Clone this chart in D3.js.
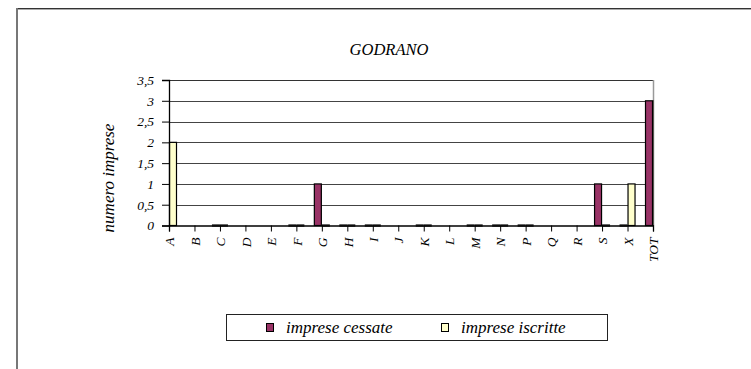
<!DOCTYPE html>
<html>
<head>
<meta charset="utf-8">
<script src="https://cdn.jsdelivr.net/npm/d3@7"></script>
<style>
  html, body { margin: 0; padding: 0; background: #fff; }
  svg { display: block; }
  svg text { font-family: 'Liberation Serif', 'Times New Roman', Times, 'DejaVu Serif', serif !important; font-style: italic; fill: #000; }
</style>
</head>
<body>
<svg id="chart" width="751" height="369"></svg>
<script>
const categories = ["A","B","C","D","E","F","G","H","I","J","K","L","M","N","P","Q","R","S","X","TOT"];
const cessate   = [null,null,0,null,null,0,1,0,0,null,0,null,0,0,0,null,null,1,0,3];
const iscritte  = [2,null,0,null,null,0,0,0,0,null,0,null,0,0,0,null,null,0,1,3];
const yTicks = [0,0.5,1,1.5,2,2.5,3,3.5];
const seriesNames = ["imprese cessate","imprese iscritte"];
const seriesColors = ["#993366","#FFFFCC"];
const title = "GODRANO";
const yTitle = "numero imprese";

(function(){
const svg = d3.select("#chart");

// outer frame
svg.append("line").attr("x1",16).attr("x2",751).attr("y1",8.5).attr("y2",8.5).attr("stroke","#333").attr("stroke-width",1);
svg.append("line").attr("x1",16).attr("x2",751).attr("y1",9.5).attr("y2",9.5).attr("stroke","#aaa").attr("stroke-width",1);
svg.append("line").attr("x1",17).attr("x2",17).attr("y1",8).attr("y2",369).attr("stroke","#777").attr("stroke-width",2);

const pl = 169, pr = 653, pt = 80, pb = 225.5;
const x = d3.scalePoint().domain(categories).range([pl, pr]).padding(0);
const y = d3.scaleLinear().domain([0, 3.5]).range([pb, pt]);

svg.append("defs").append("clipPath").attr("id","plotclip")
  .append("rect").attr("x",pl-10).attr("y",pt-2).attr("width",pr-pl+10.5).attr("height",pb-pt+6);

// gridlines
svg.append("g").selectAll("line").data(yTicks.filter(d=>d>0)).join("line")
  .attr("x1",pl).attr("x2",pr)
  .attr("y1",d=>Math.round(y(d))+0.5).attr("y2",d=>Math.round(y(d))+0.5)
  .attr("stroke",d=>d===3.5?"#333":"#444").attr("stroke-width",1);

// plot right border
svg.append("line").attr("x1",pr+0.5).attr("x2",pr+0.5).attr("y1",pt).attr("y2",pb)
  .attr("stroke","#999").attr("stroke-width",1.5);

// bars
const bw = 8;
const barsG = svg.append("g").attr("clip-path","url(#plotclip)");
const series = [cessate, iscritte];
series.forEach((vals, si) => {
  const recs = categories.map((c,i)=>({c, v: vals[i]})).filter(d => d.v !== null);
  const xs = d => si === 0 ? x(d.c) - bw : x(d.c);
  barsG.selectAll(null).data(recs.filter(d=>d.v>0)).join("rect")
    .attr("x", d => xs(d) + 0.5)
    .attr("y", d => y(d.v))
    .attr("width", bw - 1)
    .attr("height", d => y(0) - y(d.v))
    .attr("fill", seriesColors[si])
    .attr("stroke", "#000").attr("stroke-width", 1.2);
  barsG.selectAll(null).data(recs.filter(d=>d.v===0)).join("line")
    .attr("x1", d => xs(d)).attr("x2", d => xs(d) + bw)
    .attr("y1", y(0)).attr("y2", y(0))
    .attr("stroke", "#333").attr("stroke-width", 2.5);
});

// x axis
const xAxis = d3.axisBottom(x).tickSize(6).tickPadding(5);
const gx = svg.append("g").attr("transform",`translate(0,${pb})`).call(xAxis);
gx.attr("font-family", null);
gx.select(".domain").attr("stroke","#000").attr("stroke-width",1.3);
gx.selectAll(".tick line").attr("stroke","#000");
gx.selectAll(".tick text")
  .attr("font-size",13.5)
  .attr("transform","rotate(-90)")
  .attr("x",-12).attr("y",0).attr("dy","0.35em")
  .attr("text-anchor","end");

// y axis
const yAxis = d3.axisLeft(y).tickValues(yTicks).tickSize(7).tickPadding(8)
  .tickFormat(d => String(d).replace(".", ","));
const gy = svg.append("g").attr("transform",`translate(${pl},0)`).call(yAxis);
gy.attr("font-family", null);
gy.select(".domain").attr("stroke","#000").attr("stroke-width",1.3);
gy.selectAll(".tick line").attr("stroke","#000");
gy.selectAll(".tick text").attr("font-size",13.5);

// title
svg.append("text").attr("x",389).attr("y",55).attr("text-anchor","middle").attr("font-size",16.5).text(title);

// y title
svg.append("text").attr("transform","translate(114,178) rotate(-90)").attr("text-anchor","middle")
  .attr("font-size",17).text(yTitle);

// legend
const lg = svg.append("g");
lg.append("rect").attr("x",226.5).attr("y",314.5).attr("width",381).attr("height",26)
  .attr("fill","#fff").attr("stroke","#222").attr("stroke-width",1);
const legX = [266, 441];
seriesNames.forEach((n,i) => {
  lg.append("rect").attr("x",legX[i]+0.5).attr("y",323.5).attr("width",7).attr("height",8)
    .attr("fill",seriesColors[i]).attr("stroke","#000").attr("stroke-width",1);
  lg.append("text").attr("x",legX[i]+20).attr("y",333).attr("font-size",17).text(n);
});
})();
</script>
</body>
</html>
